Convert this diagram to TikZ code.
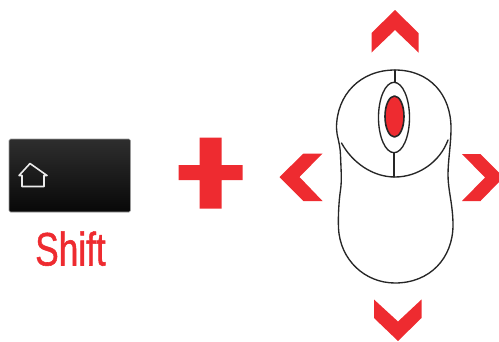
\documentclass[tikz,border=0pt]{standalone}
\usepackage{fontspec}
\setmainfont{Liberation Sans}
\newfontfamily\shiftfont[FakeBold=1.2]{Liberation Sans}
\definecolor{mkred}{HTML}{EE2B30}
\definecolor{keytop}{HTML}{2E2E2E}
\definecolor{keybot}{HTML}{080808}
\definecolor{keyedge}{HTML}{9A9A9A}
\tikzset{
  redshape/.style={fill=mkred,draw=none},
  mouseline/.style={draw=black!85,line width=1.35pt,line join=round,line cap=round},
}
\begin{document}
\begin{tikzpicture}[x=1pt,y=-1pt]
\useasboundingbox (0,0) rectangle (499,341);
% key
\shade[top color=keytop,bottom color=keybot,draw=keyedge,line width=.7pt,rounded corners=1.5pt]
  (9,139) rectangle (130.5,212);
\draw[white!92!black,line width=1.6pt,line join=round]
  (30,163.5) -- (47,175.5) -- (44,175.5) -- (44,186.5) -- (22,186.5) -- (22,175.5) -- (19,175.5) -- cycle;
\node[text=mkred,font=\shiftfont\fontsize{47}{47}\selectfont,xscale=.75,inner sep=0pt,anchor=base] (shiftlabel) at (70.5,265.5) {Shift};
% plus
\fill[redshape] (199.5,137.5) -- (221.5,137.5) -- (221.5,165) -- (242.5,165) -- (242.5,180) -- (221.5,180) -- (221.5,208.5) -- (199.5,208.5) -- (199.5,180) -- (178.5,180) -- (178.5,165) -- (199.5,165) -- cycle;
% arrows
\fill[redshape] (395,10) -- (418.5,33) -- (418.5,52.5) -- (395,30) -- (371.5,52.5) -- (371.5,33) -- cycle;
\fill[redshape] (398,341) -- (421.5,318) -- (421.5,299.5) -- (398,321.5) -- (374,299.5) -- (374,318) -- cycle;
\fill[redshape] (279.5,177) -- (303.5,153.5) -- (322.5,153.5) -- (299.5,177) -- (322.5,201) -- (303.5,201) -- cycle;
\fill[redshape] (499,172.5) -- (480.5,154) -- (462,154) -- (485,177.5) -- (462,201) -- (480.5,201) -- (499,182) -- cycle;
% mouse outline
\draw[mouseline,fill=white]
  (395,70) .. controls (360,70) and (336.5,95) .. (336.5,128)
  .. controls (336.5,136) and (340,142) .. (340.5,155)
  .. controls (341,170) and (342,180) .. (340.5,190)
  .. controls (339,200) and (338,215) .. (338.5,228)
  .. controls (340,260) and (365,283) .. (395,283)
  .. controls (430,283) and (453,258) .. (453,225)
  .. controls (453,205) and (448,190) .. (448,175)
  .. controls (448,160) and (451,145) .. (451,128)
  .. controls (451,95) and (430,70) .. (395,70) -- cycle;
\draw[mouseline] (341.5,143) .. controls (352,162) and (372,177) .. (395,177) .. controls (418,177) and (440,162) .. (448,140);
\draw[mouseline] (395,70) -- (395,82);
\draw[mouseline] (394,152.5) -- (394,177);
\draw[mouseline,fill=white] (394,117.5) ellipse [x radius=15.5,y radius=35.2];
\draw[mouseline,line width=1.6pt,fill=mkred] (394.5,116.5) ellipse [x radius=9.5,y radius=20.5];
\end{tikzpicture}
\end{document}
